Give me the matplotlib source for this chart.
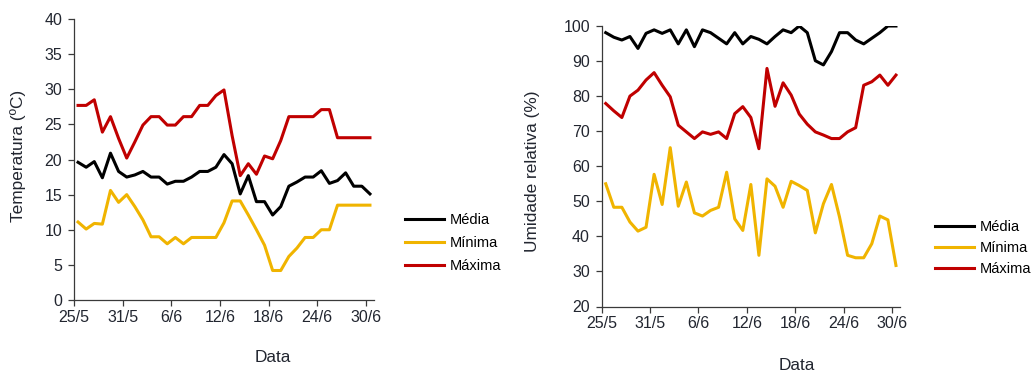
import matplotlib
matplotlib.use("Agg")
import matplotlib.pyplot as plt

plt.rcParams["font.family"] = ["Liberation Sans", "DejaVu Sans"]

# 25/5 a 30/6, um valor por dia
DAYS = 37
TICK_POS = [0, 6, 12, 18, 24, 30, 36]
TICK_LABELS = ["25/5", "31/5", "6/6", "12/6", "18/6", "24/6", "30/6"]

temp_media = [19.6, 18.9, 19.7, 17.4, 20.9, 18.3, 17.5, 17.8, 18.3, 17.5,
              17.5, 16.5, 16.9, 16.9, 17.5, 18.3, 18.3, 18.9, 20.7, 19.4,
              15.1, 17.7, 14.0, 14.0, 12.1, 13.3, 16.2, 16.8, 17.5, 17.5,
              18.4, 16.6, 17.0, 18.1, 16.2, 16.2, 15.1]
temp_minima = [11.1, 10.1, 10.9, 10.8, 15.6, 13.9, 15.0, 13.3, 11.4, 9.0,
               9.0, 8.0, 8.9, 8.0, 8.9, 8.9, 8.9, 8.9, 11.0, 14.1,
               14.1, 12.1, 10.0, 7.8, 4.2, 4.2, 6.2, 7.4, 8.9, 8.9,
               10.0, 10.0, 13.5, 13.5, 13.5, 13.5, 13.5]
temp_maxima = [27.7, 27.7, 28.5, 23.9, 26.1, 23.0, 20.2, 22.5, 24.9, 26.1,
               26.1, 24.9, 24.9, 26.1, 26.1, 27.7, 27.7, 29.1, 29.9, 23.4,
               17.7, 19.4, 17.9, 20.5, 20.1, 22.7, 26.1, 26.1, 26.1, 26.1,
               27.1, 27.1, 23.1, 23.1, 23.1, 23.1, 23.1]

ur_media = [98.1, 96.8, 96.0, 97.0, 93.6, 97.9, 98.9, 97.9, 98.9, 94.9,
            98.9, 94.1, 98.9, 98.1, 96.5, 94.9, 98.1, 94.9, 97.0, 96.2,
            94.9, 97.0, 98.9, 98.1, 100.0, 98.1, 90.1, 88.9, 92.7, 98.1,
            98.1, 96.0, 94.9, 96.5, 98.1, 100.0, 100.0]
ur_minima = [55.0, 48.3, 48.3, 44.1, 41.5, 42.6, 57.7, 49.1, 65.3, 48.6,
             55.5, 46.7, 45.8, 47.4, 48.3, 58.3, 45.0, 41.7, 54.8, 34.6,
             56.4, 54.3, 48.3, 55.7, 54.5, 53.1, 41.0, 49.3, 54.8, 45.5,
             34.6, 33.9, 33.9, 37.9, 45.8, 44.7, 31.7]
ur_maxima = [77.9, 75.8, 73.9, 80.0, 81.7, 84.6, 86.7, 83.1, 79.8, 71.7,
             69.8, 67.9, 69.8, 69.1, 69.8, 67.9, 75.0, 77.0, 73.9, 65.0,
             87.9, 77.1, 83.8, 80.3, 74.9, 72.0, 69.8, 68.9, 67.9, 67.9,
             69.8, 71.0, 83.1, 84.1, 86.0, 83.1, 86.0]

COLORS = {"media": "#000000", "minima": "#F0B400", "maxima": "#C00000"}
TEXT = "#222630"
TICK_FS = 11.5
LABEL_FS = 12.4
LEG_FS = 10.5

W, H = 1033, 372
fig = plt.figure(figsize=(W / 100, H / 100), dpi=100)

# pontos ficam entre as marcas do eixo
x = [i + 0.5 for i in range(DAYS)]


def style_axis(ax, ylim, yticks):
    ax.set_xlim(0, DAYS)
    ax.set_ylim(*ylim)
    ax.set_yticks(yticks)
    ax.set_xticks(TICK_POS)
    ax.set_xticklabels(TICK_LABELS)
    for s in ["top", "right"]:
        ax.spines[s].set_visible(False)
    for s in ["left", "bottom"]:
        ax.spines[s].set_color("#3a3a3a")
        ax.spines[s].set_linewidth(0.9)
    ax.tick_params(axis="both", direction="out", length=4, width=0.9,
                   color="#3a3a3a", labelsize=TICK_FS, labelcolor=TEXT)
    ax.tick_params(axis="y", pad=4.5)
    ax.tick_params(axis="x", pad=3)


def draw(ax, media, minima, maxima):
    ax.plot(x, media, color=COLORS["media"], lw=2.2, label="Média")
    ax.plot(x, minima, color=COLORS["minima"], lw=2.2, label="Mínima")
    ax.plot(x, maxima, color=COLORS["maxima"], lw=2.2, label="Máxima")


def add_legend(ax, anchor, spacing):
    ax.legend(loc="center left", bbox_to_anchor=anchor,
              bbox_transform=fig.transFigure, frameon=False, fontsize=LEG_FS,
              handlelength=2.7, handletextpad=0.35, labelspacing=spacing,
              borderpad=0, borderaxespad=0)


# temperatura
ax1 = fig.add_axes([74 / W, 1 - 300 / H, 300 / W, 281 / H])
draw(ax1, temp_media, temp_minima, temp_maxima)
style_axis(ax1, (0, 40), range(0, 41, 5))
fig.text(18 / W, 1 - 156 / H, "Temperatura (ºC)", rotation=90, ha="center",
         va="center", fontsize=LABEL_FS, color=TEXT)
fig.text(273 / W, 1 - 357 / H, "Data", ha="center", va="center",
         fontsize=LABEL_FS, color=TEXT)
add_legend(ax1, (405 / W, 1 - 243 / H), 0.62)

# umidade relativa
ax2 = fig.add_axes([601.7 / W, 1 - 306.5 / H, 298.3 / W, 280.5 / H])
draw(ax2, ur_media, ur_minima, ur_maxima)
style_axis(ax2, (20, 100), range(20, 101, 10))
fig.text(533 / W, 1 - 171 / H, "Umidade relativa (%)", rotation=90,
         ha="center", va="center", fontsize=LABEL_FS, color=TEXT)
fig.text(797 / W, 1 - 365 / H, "Data", ha="center", va="center",
         fontsize=LABEL_FS, color=TEXT)
add_legend(ax2, (935 / W, 1 - 248 / H), 0.48)

fig.savefig("out.png", dpi=100)
